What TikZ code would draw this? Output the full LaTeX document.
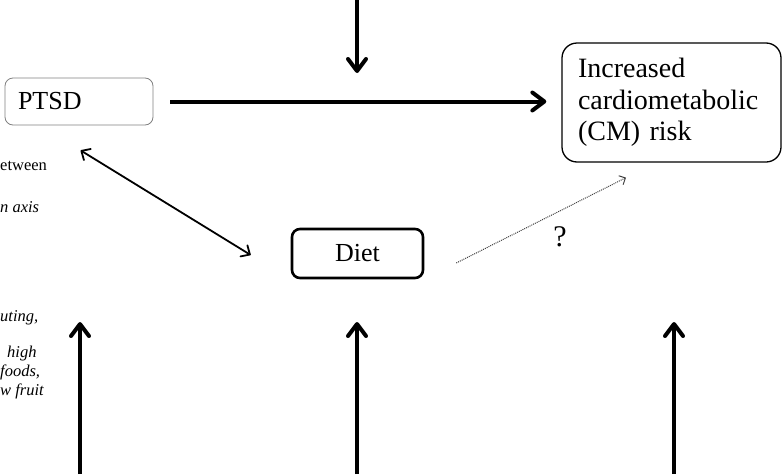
\documentclass[tikz,border=0pt]{standalone}
\usepackage{fontspec}
\setmainfont{Liberation Serif}
\usetikzlibrary{arrows.meta}
\usetikzlibrary{calc}

\tikzset{
  bigfont/.style={font=\fontsize{26}{31}\selectfont},
  riskfont/.style={font=\fontsize{28}{31.5}\selectfont},
  smallfont/.style={font=\fontsize{16.5}{19}\selectfont},
  fragment/.style={smallfont, anchor=base west, inner sep=0pt},
  bigarrow/.style={line width=4pt, -{Straight Barb[length=12pt,width=18pt,round]}},
  linkarrow/.style={line width=1.8pt, {Straight Barb[length=7pt,width=13pt,round]}-{Straight Barb[length=7pt,width=13pt,round]}},
  guessarrow/.style={line width=1pt, black!75, densely dotted, -{Straight Barb[length=5pt,width=10pt]}}
}

\begin{document}
\begin{tikzpicture}[x=1pt, y=-1pt]
    \useasboundingbox (0,0) rectangle (783,474);

    % draw boxes
    \node[bigfont, draw=gray, line width=0.8pt, rounded corners=8pt,
          text width=122pt, inner xsep=13pt, minimum height=47pt, align=left]
          (ptsd) at (79,101.5) {PTSD};
    \node[riskfont, draw, line width=1.3pt, rounded corners=15pt,
          text width=187pt, inner xsep=16pt, minimum height=119pt, align=left]
          (risk) at (671.5,102.5) {Increased\\cardiometabolic\\(CM) risk};
    \node[bigfont, draw, line width=2.6pt, rounded corners=8pt,
          minimum width=131pt, minimum height=49pt]
          (diet) at (357.5,253.5) {Diet};
    \node[font=\fontsize{30}{34}\selectfont] (qmark) at (560,237) {?};

    % cut-off text on the left
    \node[fragment] (between) at (0,170) {etween};
    \node[fragment] (axis) at (0,212) {\itshape n axis};
    \node[fragment] (uting) at (0,321) {\itshape uting,};
    \node[fragment] (high) at (7,357) {\itshape high};
    \node[fragment] (foods) at (0,376) {\itshape foods,};
    \node[fragment] (fruit) at (0,395) {\itshape w fruit};

    % free arrow ends
    \coordinate (topin) at (357,0);
    \coordinate (topout) at (357,73);
    \foreach \x/\n in {80/a,357/b,674/c} {
      \coordinate (low\n) at (\x,474);
      \coordinate (up\n) at (\x,322);
    }

    % draw arrows
    \draw[bigarrow] ([xshift=17pt]ptsd.east) -- ([xshift=-15pt]ptsd.east -| risk.west);
    \draw[bigarrow] (topin) -- (topout);
    \foreach \n in {a,b,c}
      \draw[bigarrow] (low\n) -- (up\n);
    \draw[linkarrow] ([shift={(76,25)}]ptsd.south west) -- ([shift={(-40,1.5)}]diet.west);
    \draw[guessarrow] ([shift={(32,9.5)}]diet.east) -- ([shift={(-45.5,15)}]risk.south);
\end{tikzpicture}
\end{document}
